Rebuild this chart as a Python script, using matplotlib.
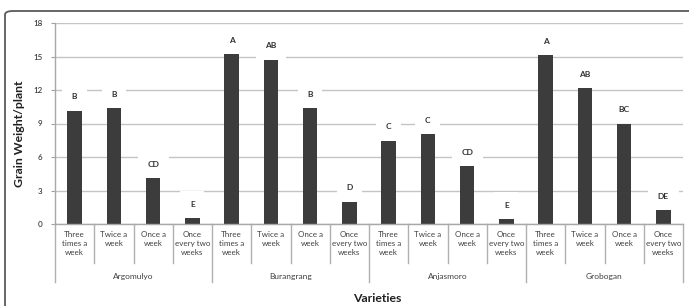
import matplotlib
matplotlib.use("Agg")
import matplotlib.pyplot as plt
from matplotlib.patches import FancyBboxPatch
from matplotlib.lines import Line2D
import matplotlib.transforms as mtransforms

plt.rcParams['font.family'] = ['Lato', 'DejaVu Sans']

varieties = ["Argomulyo", "Burangrang", "Anjasmoro", "Grobogan"]
treatments = ["Three\ntimes a\nweek", "Twice a\nweek", "Once a\nweek", "Once\nevery two\nweeks"]
values = [
    [10.15, 10.35, 4.1, 0.5],   # Argomulyo
    [15.2, 14.7, 10.35, 2.0],   # Burangrang
    [7.45, 8.05, 5.2, 0.45],    # Anjasmoro
    [15.1, 12.15, 9.0, 1.25],   # Grobogan
]
letters = [
    ["B", "B", "CD", "E"],
    ["A", "AB", "B", "D"],
    ["C", "C", "CD", "E"],
    ["A", "AB", "BC", "DE"],
]
yticks = [0, 3, 6, 9, 12, 15, 18]

W, H = 689, 306
fig = plt.figure(figsize=(W / 100, H / 100), dpi=100)

# outer frame (rounded corner, top and left visible)
frame = FancyBboxPatch((5 / W, -0.2), 1.2, (H - 11) / H + 0.2,
                       boxstyle="round,pad=0,rounding_size=0.012",
                       transform=fig.transFigure, fill=False,
                       edgecolor="#5a5a5a", linewidth=1.3, zorder=0)
fig.patches.append(frame)

left, right = 55 / W, 683 / W
top, bottom = 1 - 23 / H, 1 - 224 / H
ax = fig.add_axes([left, bottom, right - left, top - bottom])

n_t = len(treatments)
xs, hs, labs = [], [], []
for g, vals in enumerate(values):
    for t, v in enumerate(vals):
        xs.append(g * n_t + t)
        hs.append(v)
        labs.append(letters[g][t])

ax.bar(xs, hs, width=0.37, color="#3c3c3c", zorder=2)
ax.set_xlim(-0.5, len(xs) - 0.5)
ax.set_ylim(0, 18)
ax.set_yticks(yticks)
ax.set_yticklabels([str(v) for v in yticks], fontsize=5.8, color="#404040",
                   fontweight="semibold")
ax.tick_params(axis="y", length=3, color="#a0a0a0", pad=6)
ax.set_xticks([])
ax.yaxis.grid(True, color="#c4c4c4", linewidth=1.0, zorder=0)
ax.set_axisbelow(True)
for s in ["top", "right"]:
    ax.spines[s].set_visible(False)
for s in ["left", "bottom"]:
    ax.spines[s].set_color("#a8a8a8")
    ax.spines[s].set_linewidth(1.0)

# data letters with white background
for x, h, l in zip(xs, hs, labs):
    ax.annotate(l, (x, h), xytext=(0, 10), textcoords="offset points",
                ha="center", va="center", fontsize=6, color="#303030",
                fontweight="bold", zorder=4,
                bbox=dict(boxstyle="square,pad=1.15", fc="white", ec="none"))

# category labels and separators below the axis
trans = mtransforms.blended_transform_factory(ax.transData, fig.transFigure)
def fy(px):
    return 1 - px / H

for x, (g, t) in zip(xs, [(g, t) for g in range(len(varieties)) for t in range(n_t)]):
    ax.text(x, fy(231), treatments[t], transform=trans, ha="center", va="top",
            fontsize=5.8, color="#404040", linespacing=1.35)

for b in range(len(xs) + 1):
    xb = b - 0.5
    y_end = 282 if b % n_t == 0 else 263
    ln = Line2D([xb, xb], [fy(224), fy(y_end)], transform=trans,
                color="#b0b0b0", linewidth=1.0, clip_on=False)
    ax.add_line(ln)

for g, name in enumerate(varieties):
    ax.text(g * n_t + (n_t - 1) / 2, fy(277), name, transform=trans,
            ha="center", va="center", fontsize=6, color="#404040")

fig.text(377 / W, fy(298), "Varieties", ha="center", va="center",
         fontsize=8.8, fontweight="bold", color="#202020")
fig.text(20 / W, fy(134), "Grain Weight/plant", ha="center", va="center",
         rotation=90, fontsize=8.8, fontweight="bold", color="#202020")

fig.savefig("out.png", dpi=100)
